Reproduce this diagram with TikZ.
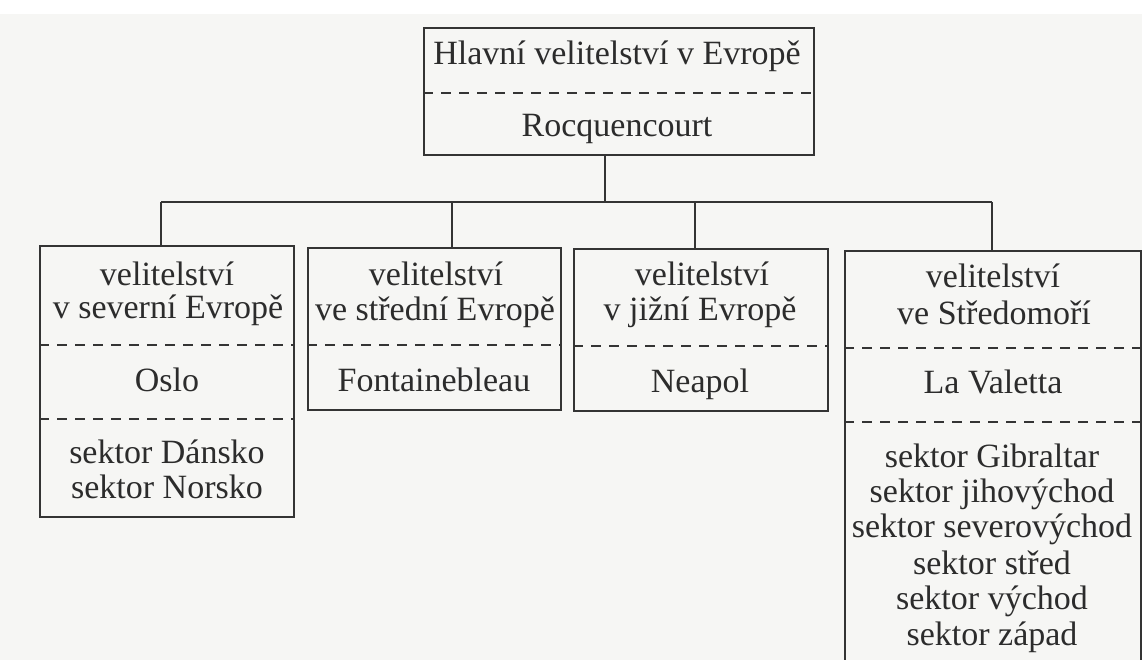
\documentclass[tikz,border=0pt]{standalone}
\usepackage{fontspec}
\setmainfont{Liberation Serif}
\definecolor{linecol}{RGB}{52,52,52}
\definecolor{textcol}{RGB}{44,44,44}
\definecolor{paper}{RGB}{246,246,244}
\begin{document}
\begin{tikzpicture}[x=1pt,y=-1pt,
  box/.style={draw=linecol, line width=1.8pt, rectangle, inner sep=0pt, anchor=north west},
  conn/.style={draw=linecol, line width=1.8pt},
  dashline/.style={draw=linecol, line width=1.8pt, dash pattern=on 10pt off 8pt},
  lbl/.style={text=textcol, inner sep=0pt, anchor=base, font=\fontsize{34}{36}\selectfont}]
\path[clip, use as bounding box] (0,0) rectangle (1142,660);
\fill[paper] (0,0) rectangle (1142,660);
\fill[white] (0,0) rectangle (1142,14);

% boxes
\node[box, minimum width=390pt, minimum height=127pt] (top) at (423,27) {};
\node[box, minimum width=254pt, minimum height=271pt] (b1) at (39,245) {};
\node[box, minimum width=253pt, minimum height=162pt] (b2) at (307,247) {};
\node[box, minimum width=254pt, minimum height=162pt] (b3) at (573,248) {};
\node[box, minimum width=296pt, minimum height=430pt] (b4) at (844,250) {};

% dashed separators
\draw[dashline] (top.west |- 0,93) -- (top.east |- 0,93);
\draw[dashline] (b1.west |- 0,345) -- (b1.east |- 0,345);
\draw[dashline] (b1.west |- 0,419) -- (b1.east |- 0,419);
\draw[dashline] (b2.west |- 0,345) -- (b2.east |- 0,345);
\draw[dashline] (b3.west |- 0,346) -- (b3.east |- 0,346);
\draw[dashline] (b4.west |- 0,348) -- (b4.east |- 0,348);
\draw[dashline] (b4.west |- 0,422) -- (b4.east |- 0,422);

% texts
\node[lbl] (t0a) at (617,65) {Hlavní velitelství v Evropě};
\node[lbl] (t0b) at (617,137) {Rocquencourt};

\node[lbl] (t1a) at (167,285) {velitelství};
\node[lbl] (t1b) at (168,318) {v severní Evropě};
\node[lbl] (t1c) at (167,391) {Oslo};
\node[lbl] (t1d) at (167,463) {sektor Dánsko};
\node[lbl] (t1e) at (167,498) {sektor Norsko};

\node[lbl] (t2a) at (436,285) {velitelství};
\node[lbl] (t2b) at (435,320) {ve střední Evropě};
\node[lbl] (t2c) at (434,391) {Fontainebleau};

\node[lbl] (t3a) at (702,285) {velitelství};
\node[lbl] (t3b) at (700,320) {v jižní Evropě};
\node[lbl] (t3c) at (700,392) {Neapol};

\node[lbl] (t4a) at (993,287) {velitelství};
\node[lbl] (t4b) at (994,324) {ve Středomoří};
\node[lbl] (t4c) at (993,393) {La Valetta};
\node[lbl] (t4d) at (992,467) {sektor Gibraltar};
\node[lbl] (t4e) at (992,502) {sektor jihovýchod};
\node[lbl] (t4f) at (992,537) {sektor severovýchod};
\node[lbl] (t4g) at (992,574) {sektor střed};
\node[lbl] (t4h) at (992,609) {sektor východ};
\node[lbl] (t4i) at (992,645) {sektor západ};

% connectors
\coordinate (jt) at (605,202);
\coordinate (j1) at (161,202);
\coordinate (j2) at (452,202);
\coordinate (j3) at (695,202);
\coordinate (j4) at (992,202);
\draw[conn] (top.south -| jt) -- (jt);
\draw[conn] (j1) -- (j4);
\draw[conn] (j1) -- (j1 |- b1.north);
\draw[conn] (j2) -- (j2 |- b2.north);
\draw[conn] (j3) -- (j3 |- b3.north);
\draw[conn] (j4) -- (j4 |- b4.north);
\end{tikzpicture}
\end{document}
